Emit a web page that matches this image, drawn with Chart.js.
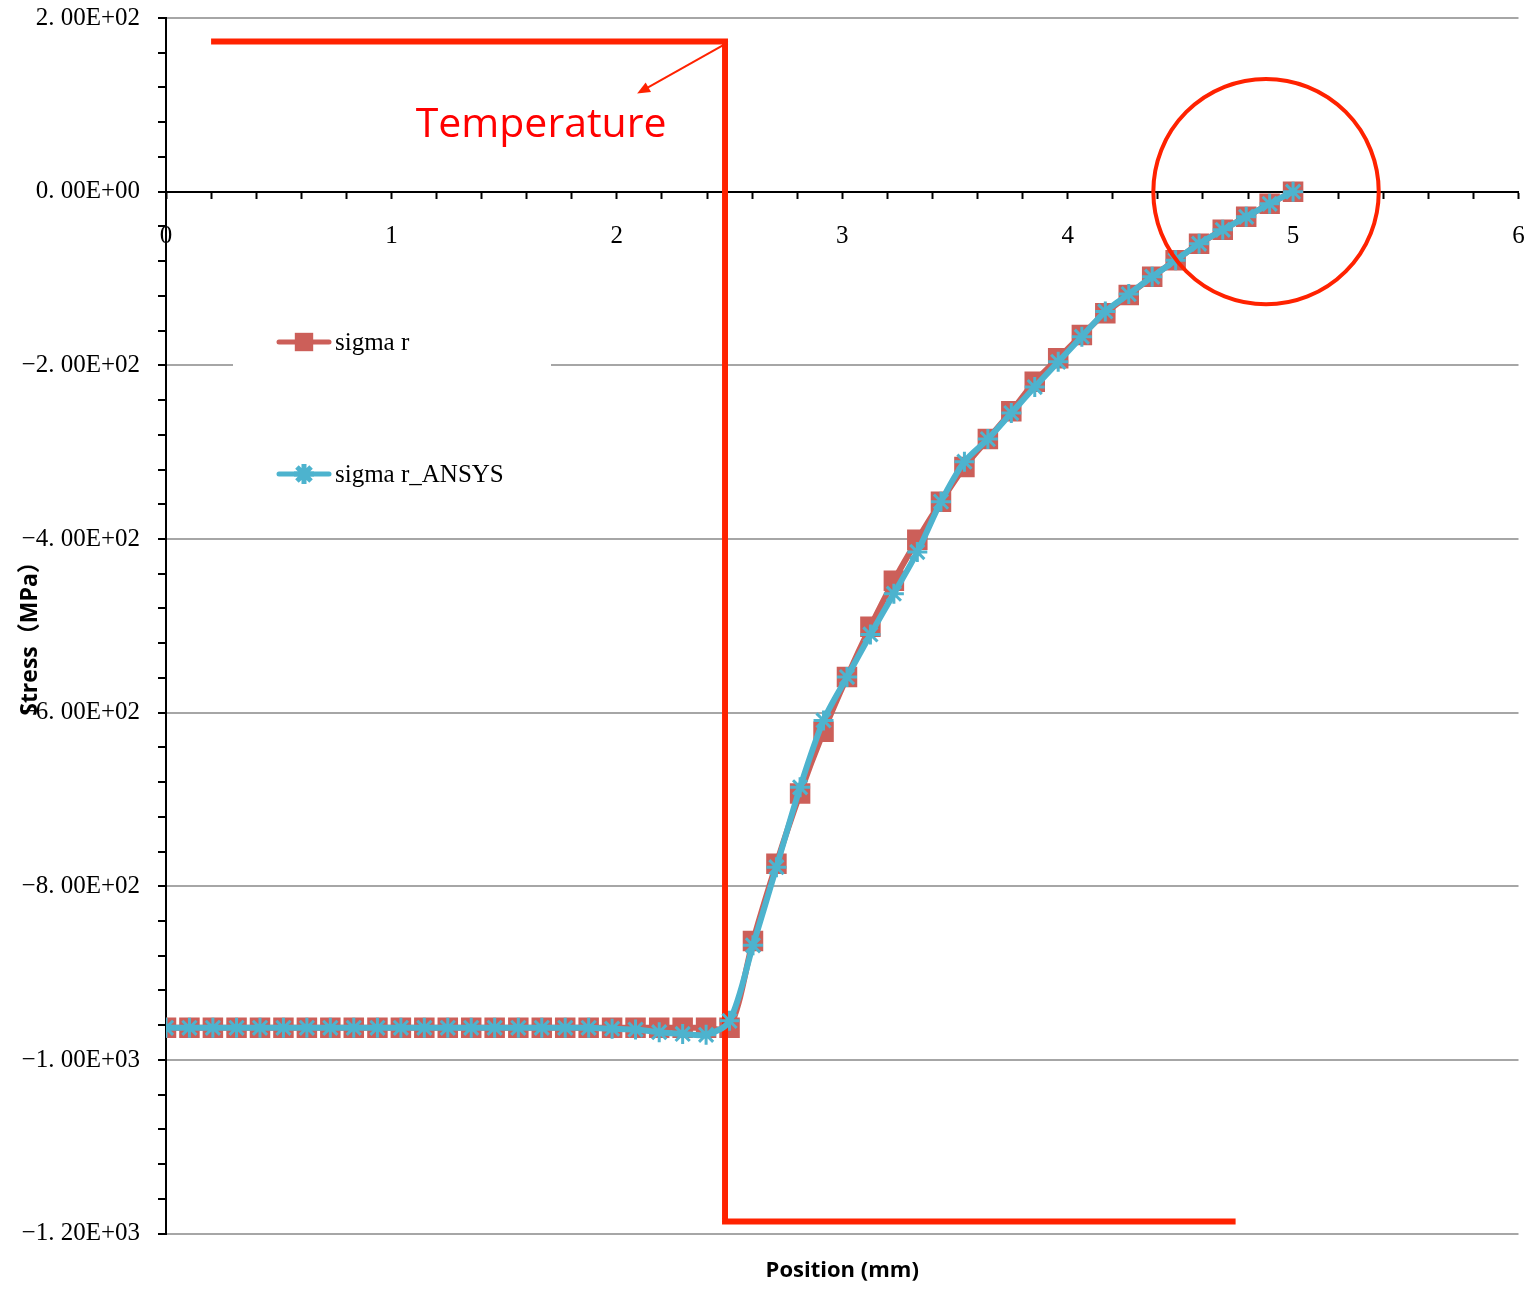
<!DOCTYPE html>
<html>
<head>
<meta charset="utf-8">
<script src="https://cdn.jsdelivr.net/npm/chart.js@4.4.1/dist/chart.umd.min.js"></script>
<style>
  html, body { margin: 0; padding: 0; background: #fff; }
  #chart { display: block; }
</style>
</head>
<body>
<canvas id="chart" width="1533" height="1292"></canvas>
<script>
// radial position along the specimen (mm)
const positions = [
  0, 0.104, 0.208, 0.313, 0.417, 0.521, 0.625, 0.729, 0.833, 0.938,
  1.042, 1.146, 1.25, 1.354, 1.458, 1.563, 1.667, 1.771, 1.875, 1.979,
  2.083, 2.188, 2.292, 2.396, 2.5, 2.604, 2.708, 2.813, 2.917, 3.021,
  3.125, 3.229, 3.333, 3.438, 3.542, 3.646, 3.75, 3.854, 3.958, 4.063,
  4.167, 4.271, 4.375, 4.479, 4.583, 4.688, 4.792, 4.896, 5
];

// radial stress, analytic (MPa)
const sigmaR = [
  -963, -963, -963, -963, -963, -963, -963, -963, -963, -963,
  -963, -963, -963, -963, -963, -963, -963, -963, -963, -963,
  -963, -963, -963, -963, -963, -863, -774, -693, -622, -559,
  -501, -448, -401, -357, -317, -285, -253, -219, -192, -165,
  -140, -119, -98, -79, -60, -44, -29, -14, 0
];

// radial stress, FE result (MPa)
const sigmaRAnsys = [
  -963, -963, -963, -963, -963, -963, -963, -963, -963, -963,
  -963, -963, -963, -963, -963, -963, -963, -963, -963, -964,
  -965, -968, -970, -971, -955, -868, -778, -686, -609, -559,
  -510, -463, -415, -357, -311, -285, -255, -225, -196, -167,
  -138, -118, -98, -79, -60, -44, -29, -14, 0
];

// temperature step profile (drawn in stress units)
const temperatureX = [0.2, 2.48, 2.48, 4.745];
const temperatureY = [173, 173, -1186, -1186];

const seriesNames = ['sigma r', 'sigma r_ANSYS'];
const xTitle = 'Position (mm)';
const yTitle = 'Stress（MPa）';
const tempLabel = 'Temperature';

const RED = '#CC5F59';
const CYAN = '#4DB3CE';
const TEMP = '#FF2200';
const SERIF = '"Liberation Serif", "DejaVu Serif", serif';

function sciLabel(v) {
  const parts = v.toExponential(2).split('e');
  const exp = parseInt(parts[1], 10);
  const s = parts[0].replace('.', '. ') + 'E' + (exp < 0 ? '-' : '+') + String(Math.abs(exp)).padStart(2, '0');
  return s.replace(/^-/, '\u2212');
}

const toPoints = (xs, ys) => xs.map((x, i) => ({ x: x, y: ys[i] }));

// annotations: label, arrow, circled region, legend, y title
const overlay = {
  id: 'overlay',
  afterDatasetsDraw(chart) {
    const { ctx, scales: { x, y } } = chart;
    ctx.save();

    // label + arrow pointing at the temperature line
    ctx.fillStyle = '#FF0000';
    ctx.font = '41px "Open Sans", sans-serif';
    ctx.textAlign = 'center';
    ctx.textBaseline = 'alphabetic';
    ctx.fillText(tempLabel, x.getPixelForValue(1.664), y.getPixelForValue(63));

    const ax0 = x.getPixelForValue(2.48), ay0 = y.getPixelForValue(170);
    const ax1 = x.getPixelForValue(2.09), ay1 = y.getPixelForValue(113);
    const ang = Math.atan2(ay1 - ay0, ax1 - ax0);
    ctx.strokeStyle = TEMP;
    ctx.lineWidth = 2;
    ctx.beginPath();
    ctx.moveTo(ax0, ay0);
    ctx.lineTo(ax1 - 8 * Math.cos(ang), ay1 - 8 * Math.sin(ang));
    ctx.stroke();
    ctx.fillStyle = TEMP;
    ctx.beginPath();
    ctx.moveTo(ax1, ay1);
    ctx.lineTo(ax1 - 14 * Math.cos(ang - 0.4), ay1 - 14 * Math.sin(ang - 0.4));
    ctx.lineTo(ax1 - 14 * Math.cos(ang + 0.4), ay1 - 14 * Math.sin(ang + 0.4));
    ctx.closePath();
    ctx.fill();

    // circle around the free edge
    const cx = x.getPixelForValue(4.88), cy = y.getPixelForValue(0);
    const r = x.getPixelForValue(4.88 + 0.5) - cx;
    ctx.strokeStyle = TEMP;
    ctx.lineWidth = 4;
    ctx.beginPath();
    ctx.arc(cx, cy, r, 0, Math.PI * 2);
    ctx.stroke();
    ctx.restore();
  },
  afterDraw(chart) {
    const { ctx } = chart;
    ctx.save();

    // legend box
    ctx.fillStyle = '#fff';
    ctx.fillRect(233, 290, 318, 248);
    const items = [
      { name: seriesNames[0], color: RED, style: 'rect', radius: 13, bw: 0, row: 342 },
      { name: seriesNames[1], color: CYAN, style: 'star', radius: 10, bw: 3, row: 474 }
    ];
    items.forEach(it => {
      ctx.strokeStyle = it.color;
      ctx.fillStyle = it.color;
      ctx.lineWidth = 5;
      ctx.lineCap = 'round';
      ctx.beginPath();
      ctx.moveTo(279, it.row);
      ctx.lineTo(329, it.row);
      ctx.stroke();
      ctx.lineCap = 'butt';
      Chart.helpers.drawPoint(ctx, { pointStyle: it.style, radius: it.radius, borderWidth: it.bw, rotation: 0 }, 304, it.row);
      ctx.fillStyle = '#000';
      ctx.font = '25px ' + SERIF;
      ctx.textAlign = 'left';
      ctx.textBaseline = 'middle';
      ctx.fillText(it.name, 335, it.row + 1);
    });

    // y axis title
    ctx.translate(30, 633);
    ctx.rotate(-Math.PI / 2);
    ctx.fillStyle = '#000';
    ctx.font = 'bold 23px "Open Sans", "Noto Sans CJK SC", sans-serif';
    ctx.textAlign = 'center';
    ctx.textBaseline = 'middle';
    ctx.fillText(yTitle, 0, 0);
    ctx.restore();
  }
};

new Chart(document.getElementById('chart'), {
  type: 'line',
  data: {
    datasets: [
      {
        label: seriesNames[1],
        data: toPoints(positions, sigmaRAnsys),
        borderColor: CYAN,
        borderWidth: 6,
        tension: 0.3,
        pointStyle: 'star',
        pointRadius: 10,
        pointBorderWidth: 3,
        pointBorderColor: CYAN,
        pointBackgroundColor: CYAN,
        order: 0
      },
      {
        label: tempLabel,
        data: toPoints(temperatureX, temperatureY),
        borderColor: TEMP,
        borderWidth: 6,
        tension: 0,
        pointRadius: 0,
        order: 1
      },
      {
        label: seriesNames[0],
        data: toPoints(positions, sigmaR),
        borderColor: RED,
        borderWidth: 6,
        tension: 0.3,
        pointStyle: 'rect',
        pointRadius: 14.5,
        pointBorderWidth: 0,
        pointBackgroundColor: RED,
        order: 2
      }
    ]
  },
  options: {
    responsive: false,
    animation: false,
    events: [],
    layout: { padding: { top: 18, right: 11, left: 0, bottom: 0 } },
    scales: {
      x: {
        type: 'linear',
        min: 0,
        max: 6,
        position: { y: 0 },
        // label overflow is already covered by the outer padding
        afterFit: scale => { scale.paddingLeft = 0; scale.paddingRight = 0; },
        grid: { drawOnChartArea: false, drawTicks: true, tickLength: 6, tickColor: '#000', tickWidth: 2 },
        border: { display: true, color: '#000', width: 2 },
        ticks: {
          stepSize: 0.2,
          autoSkip: false,
          maxRotation: 0,
          padding: 24,
          color: '#000',
          font: { family: SERIF, size: 25 },
          callback: v => Math.abs(v - Math.round(v)) < 1e-6 ? String(Math.round(v)) : ''
        }
      },
      y: {
        type: 'linear',
        min: -1200,
        max: 200,
        position: 'left',
        afterFit: scale => { scale.width = 166; scale.paddingTop = 0; scale.paddingBottom = 0; },
        grid: {
          color: c => (c.tick && c.tick.value % 200 === 0 && c.tick.value !== 0) ? '#A6A6A6' : 'rgba(0,0,0,0)',
          lineWidth: 2,
          tickLength: 8,
          tickColor: '#000',
          tickWidth: 2
        },
        border: { display: true, color: '#000', width: 2 },
        ticks: {
          stepSize: 40,
          autoSkip: false,
          padding: 18,
          color: '#000',
          font: { family: SERIF, size: 25 },
          callback: v => v % 200 === 0 ? sciLabel(v) : ''
        }
      }
    },
    plugins: {
      legend: { display: false },
      tooltip: { enabled: false },
      title: {
        display: true,
        text: xTitle,
        position: 'bottom',
        fullSize: false,
        color: '#000',
        font: { family: '"Open Sans", sans-serif', size: 22, weight: 'bold' },
        padding: { top: 24, bottom: 8 }
      }
    }
  },
  plugins: [overlay]
});
</script>
</body>
</html>
